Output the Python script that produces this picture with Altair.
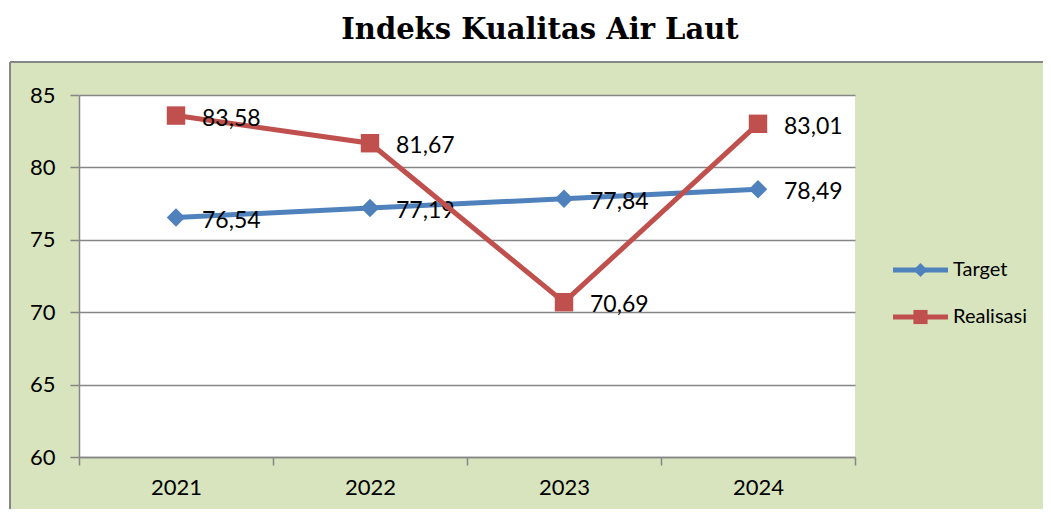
import altair as alt
import pandas as pd

# ---- data ----
years = ["2021", "2022", "2023", "2024"]
target = [76.54, 77.19, 77.84, 78.49]
realisasi = [83.58, 81.67, 70.69, 83.01]
series_names = ["Target", "Realisasi"]
series_colors = ["#4F81BD", "#C0504D"]
series_shapes = ["diamond", "square"]
y_ticks = [60, 65, 70, 75, 80, 85]
title_text = "Indeks Kualitas Air Laut"

rows = []
for s, vals in zip(series_names, [target, realisasi]):
    for yr, v in zip(years, vals):
        rows.append({"year": yr, "value": v, "series": s,
                     "label": f"{v:.2f}".replace(".", ",")})
df = pd.DataFrame(rows)

# ---- layout / style ----
W, H = 776, 362
FONT = "Lato"
GRAY = "#868686"
GREEN = "#D7E4BD"
one = pd.DataFrame({"k": [0]})

xenc = alt.X(
    "year:N",
    bandPosition=0.5,
    scale=alt.Scale(type="band", domain=years, paddingInner=0, paddingOuter=0),
    axis=alt.Axis(title=None, labelAngle=0, tickBand="extent", tickSize=8,
                  tickColor=GRAY, tickWidth=1.5, domainColor=GRAY, domainWidth=1.5,
                  labelFont=FONT, labelFontSize=22, labelColor="black",
                  labelPadding=12, grid=False),
)
yenc = alt.Y(
    "value:Q",
    scale=alt.Scale(domain=[60, 85], nice=False, zero=False),
    axis=alt.Axis(title=None, values=y_ticks, grid=True, gridColor=GRAY,
                  gridWidth=1.3, tickSize=9, tickColor=GRAY, tickWidth=1.5,
                  domainColor=GRAY, domainWidth=1.5, labelFont=FONT,
                  labelFontSize=22, labelColor="black", labelPadding=15),
)

# decoration: white strip above the green panel and left of it, panel border
white_top = alt.Chart(one).mark_rect(color="white").encode(
    x=alt.value(-80), x2=alt.value(W + 200), y=alt.value(-90), y2=alt.value(-33))
white_left = alt.Chart(one).mark_rect(color="white").encode(
    x=alt.value(-80), x2=alt.value(-69), y=alt.value(-33), y2=alt.value(H + 60))
border_top = alt.Chart(one).mark_rule(color=GRAY, strokeWidth=2).encode(
    x=alt.value(-69), x2=alt.value(W + 200), y=alt.value(-33))
border_left = alt.Chart(one).mark_rule(color=GRAY, strokeWidth=2).encode(
    x=alt.value(-69), y=alt.value(-33), y2=alt.value(H + 60))

title = alt.Chart(one).mark_text(
    text=title_text, font="DejaVu Serif", fontWeight="bold", fontSize=29,
    align="center", baseline="alphabetic", color="black").encode(
    x=alt.value(461), y=alt.value(-56))

layers = [white_top, white_left, border_top, border_left, title]

legend_y = [175, 222]
for s, c, sh, ly in zip(series_names, series_colors, series_shapes, legend_y):
    d = df[df["series"] == s]
    base = alt.Chart(d)
    layers.append(base.mark_line(color=c, strokeWidth=5).encode(x=xenc, y=yenc))
    layers.append(base.mark_point(shape=sh, filled=True, opacity=1, color=c,
                                  size=340).encode(x=xenc, y=yenc))
    layers.append(base.mark_text(align="left", baseline="middle", dx=26, dy=3,
                                 font=FONT, fontSize=23, color="black").encode(
        x=xenc, y=yenc, text="label:N"))
    # legend entry
    ld = pd.DataFrame({"series": [s]})
    layers.append(alt.Chart(ld).mark_rule(color=c, strokeWidth=5).encode(
        x=alt.value(814), x2=alt.value(869), y=alt.value(ly)))
    layers.append(alt.Chart(ld).mark_point(shape=sh, filled=True, opacity=1,
                                           color=c, size=200).encode(
        x=alt.value(841.5), y=alt.value(ly)))
    layers.append(alt.Chart(ld).mark_text(align="left", baseline="middle",
                                          font=FONT, fontSize=20,
                                          color="black").encode(
        x=alt.value(874), y=alt.value(ly), text="series:N"))

chart = alt.layer(*layers).properties(
    width=W, height=H, background=GREEN,
    padding={"left": 71, "top": 87, "right": 188, "bottom": 52},
    autosize=alt.AutoSizeParams(type="none"),
).configure_view(fill="white", stroke=None)

chart.save("out.html", embed_options={"renderer": "svg", "actions": False})
